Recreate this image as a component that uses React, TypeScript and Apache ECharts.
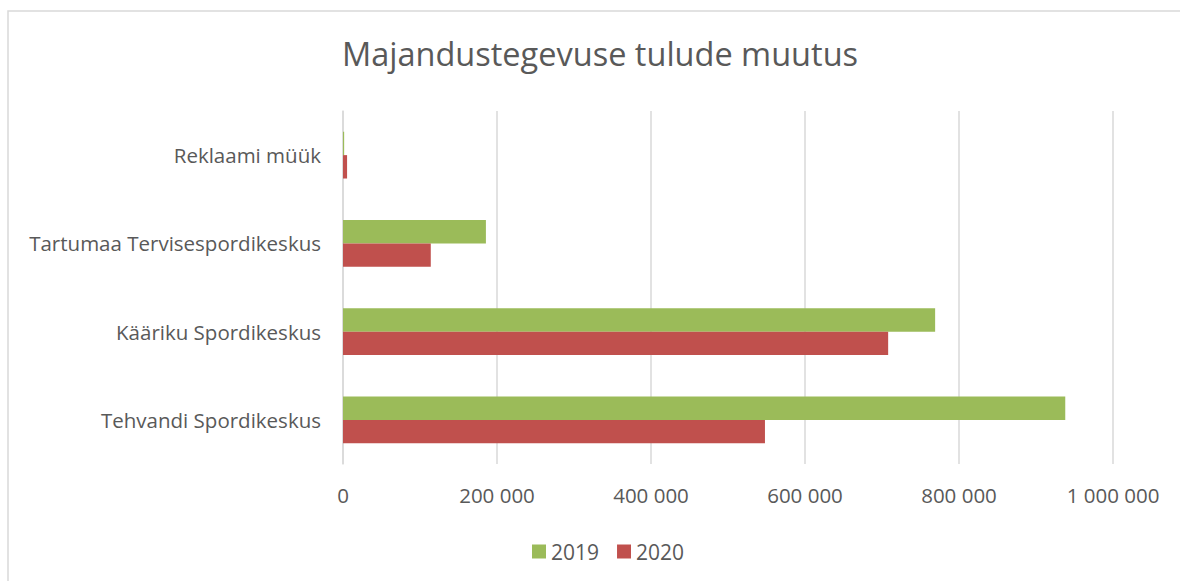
import React, { useEffect, useRef } from "react";
import * as echarts from "echarts";

const categories = [
  "Tehvandi Spordikeskus",
  "Kääriku Spordikeskus",
  "Tartumaa Tervisespordikeskus",
  "Reklaami müük",
];
const values2019 = [938000, 769000, 185600, 1500];
const values2020 = [548000, 708000, 114000, 5300];
const xTicks = [0, 200000, 400000, 600000, 800000, 1000000];

const fmt = (v: number) => String(Math.round(v)).replace(/\B(?=(\d{3})+(?!\d))/g, " ");

export default function App() {
  const ref = useRef<HTMLDivElement>(null);
  useEffect(() => {
    if (!ref.current) return;
    const chart = echarts.init(ref.current, null, { renderer: "svg" });
    const font = "'Open Sans', 'Noto Sans', sans-serif";
    chart.setOption({
      animation: false,
      backgroundColor: "#ffffff",
      textStyle: { fontFamily: font },
      title: {
        text: "Majandustegevuse tulude muutus",
        left: 337,
        top: 32,
        textStyle: { fontSize: 32.5, fontWeight: "normal", color: "#595959", fontFamily: font },
      },
      graphic: [
        {
          type: "rect",
          shape: { x: 8, y: 11, width: 1200, height: 620 },
          style: { fill: "none", stroke: "#d9d9d9", lineWidth: 1.5 },
          silent: true,
          z: -1,
        },
      ],
      legend: {
        data: ["2019", "2020"],
        top: 536,
        left: 527,
        itemWidth: 14,
        itemHeight: 14,
        itemGap: 18,
        icon: "rect",
        textStyle: { fontSize: 21, color: "#595959", fontFamily: font },
      },
      grid: { left: 343, right: 67, top: 111, bottom: 117, containLabel: false },
      xAxis: {
        type: "value",
        min: xTicks[0],
        max: xTicks[xTicks.length - 1],
        interval: 200000,
        axisLine: { show: false },
        axisTick: { show: false },
        splitLine: { show: true, lineStyle: { color: "#d9d9d9", width: 1.5 } },
        axisLabel: {
          formatter: (v: number) => fmt(v),
          fontSize: 20.5,
          color: "#595959",
          margin: 20,
          fontFamily: font,
        },
      },
      yAxis: {
        type: "category",
        data: categories,
        axisLine: { show: true, lineStyle: { color: "#d9d9d9", width: 1.5 } },
        axisTick: { show: false },
        axisLabel: { fontSize: 20.5, color: "#595959", margin: 22, fontFamily: font },
      },
      series: [
        {
          name: "2019",
          type: "bar",
          data: values2019,
          itemStyle: { color: "#9bbb59" },
          barGap: "0%",
          barCategoryGap: "47%",
        },
        {
          name: "2020",
          type: "bar",
          data: values2020,
          itemStyle: { color: "#c0504d" },
          barGap: "0%",
          barCategoryGap: "47%",
        },
      ],
    });
    return () => chart.dispose();
  }, []);
  return (
    <div
      ref={ref}
      style={{ position: "fixed", left: 0, top: 0, width: 1180, height: 581 }}
    />
  );
}
